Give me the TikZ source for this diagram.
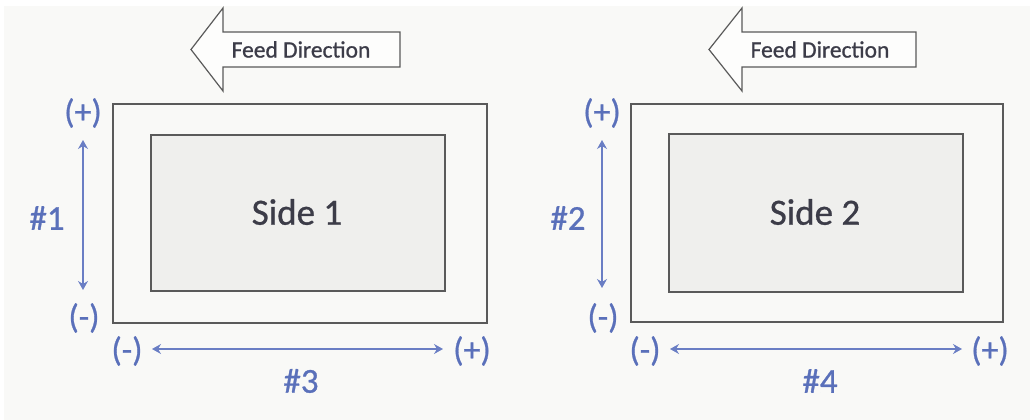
\documentclass[tikz,border=0pt]{standalone}
\usepackage{fontspec}
\setmainfont{Carlito}
\newfontfamily\medfont{Carlito}[FakeBold=0.8]
\usetikzlibrary{arrows.meta}
\definecolor{bgc}{HTML}{F9F9F7}
\definecolor{edgec}{HTML}{5A5A5A}
\definecolor{innerc}{HTML}{EFEFED}
\definecolor{labc}{HTML}{5A70BA}
\definecolor{arrc}{HTML}{6A7EC4}
\definecolor{txtc}{HTML}{3C3C48}
\tikzset{
  outerbox/.style={draw=edgec, line width=1.4pt, fill=bgc},
  innerbox/.style={draw=edgec, line width=1.4pt, fill=innerc},
  feedarrow/.style={draw=edgec, line width=1.2pt, fill=white!60!bgc, line join=miter},
  sign/.style={text=labc, font=\medfont\fontsize{34}{38}\selectfont, inner sep=0pt},
  numlab/.style={text=labc, font=\medfont\fontsize{35}{40}\selectfont, inner sep=0pt},
  sidelab/.style={text=txtc, font=\medfont\fontsize{37}{42}\selectfont, inner sep=0pt},
  feedlab/.style={text=txtc, font=\medfont\fontsize{23.5}{26}\selectfont, inner sep=0pt},
  dimarrow/.style={draw=arrc, line width=1.4pt, {Stealth[length=9pt,width=10pt,inset=3pt]}-{Stealth[length=9pt,width=10pt,inset=3pt]}}
}
\begin{document}
\begin{tikzpicture}[x=1pt,y=-1pt]
\useasboundingbox (0,0) rectangle (1030,420);
\fill[white] (0,0) rectangle (1030,420);
\fill[bgc] (4,6) rectangle (1030,420);

% ---------- left panel ----------
\path[feedarrow] (191,49.5) -- (223,8) -- (223,32) -- (400,32) -- (400,67) -- (223,67) -- (223,91) -- cycle;
\node[feedlab] (feed1) at (301,49.5) {Feed Direction};

\node[outerbox, minimum width=374pt, minimum height=219pt, inner sep=0pt] (out1) at (300,213.5) {};
\node[innerbox, minimum width=294pt, minimum height=156pt, inner sep=0pt] (in1) at (298,213) {};
\node[sidelab] (side1) at (297,212) {Side 1};

\node[sign] (vp1) at (83,113) {(+)};
\node[sign] (vm1) at (84,318) {(-)};
\coordinate (va1) at (83,140);
\coordinate (vb1) at (83,290);
\draw[dimarrow] (va1) -- (vb1);
\node[numlab] (n1) at (47,218) {\#1};

\node[sign] (hm1) at (127,351) {(-)};
\node[sign] (hp1) at (472,351) {(+)};
\coordinate (ha1) at (152,349);
\coordinate (hb1) at (443,349);
\draw[dimarrow] (ha1) -- (hb1);
\node[numlab] (n3) at (301,381) {\#3};

% ---------- right panel ----------
\path[feedarrow] (709,49.5) -- (742,8) -- (742,32) -- (916,32) -- (916,67) -- (742,67) -- (742,91) -- cycle;
\node[feedlab] (feed2) at (820,49.5) {Feed Direction};

\node[outerbox, minimum width=372pt, minimum height=218pt, inner sep=0pt] (out2) at (817,213) {};
\node[innerbox, minimum width=294pt, minimum height=158pt, inner sep=0pt] (in2) at (816,213) {};
\node[sidelab] (side2) at (815,212) {Side 2};

\node[sign] (vp2) at (602,113) {(+)};
\node[sign] (vm2) at (603,318) {(-)};
\coordinate (va2) at (602,140);
\coordinate (vb2) at (602,288);
\draw[dimarrow] (va2) -- (vb2);
\node[numlab] (n2) at (568,218) {\#2};

\node[sign] (hm2) at (645,351) {(-)};
\node[sign] (hp2) at (990,351) {(+)};
\coordinate (ha2) at (670,349);
\coordinate (hb2) at (962,349);
\draw[dimarrow] (ha2) -- (hb2);
\node[numlab] (n4) at (820,381) {\#4};
\end{tikzpicture}
\end{document}
